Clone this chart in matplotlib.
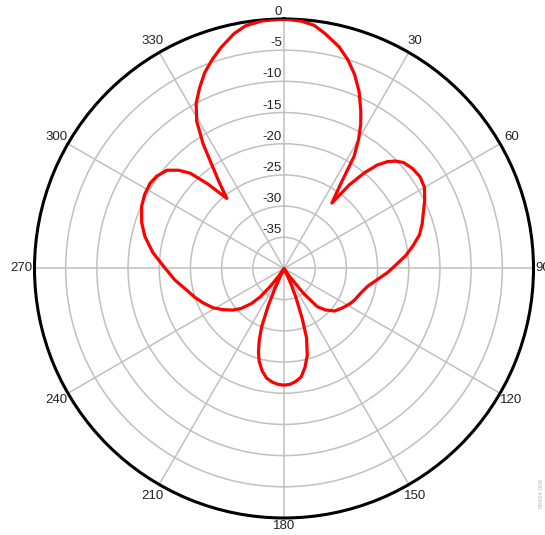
import numpy as np
import matplotlib
matplotlib.use("Agg")
import matplotlib.pyplot as plt
import matplotlib.transforms as mtransforms

# ── data (compass degrees, clockwise from top; dB) ──
angle_deg = [0, 4, 7, 10, 14, 17, 20, 23, 26, 28, 30, 32, 34, 36.2, 38, 40, 42, 44,
             46, 48.4, 52, 56, 60, 64, 68, 72, 76, 80, 84, 88, 92, 97, 102, 108,
             114, 118, 124, 130, 135, 139, 142, 145, 147, 153, 155.5, 157.5, 160,
             162, 165, 168, 171, 174, 177, 180, 183, 186, 189, 192, 195, 197, 199,
             201, 203, 204.5, 207, 213, 215, 217.6, 220, 223, 227, 231, 236, 241,
             247, 252, 258, 264, 271, 277, 283, 288, 293.5, 298, 302.5, 306, 310,
             313, 315.5, 318, 320.8, 323, 325, 327, 329.3, 332, 335, 338, 341, 344,
             348, 351, 355, 360]
gain_db = [0, -0.25, -0.7, -1.8, -3.4, -5.0, -6.9, -9.2, -11.9, -13.8, -16.1, -18.8,
           -24.0, -27.0, -23.0, -20.0, -17.7, -16.2, -15.2, -14.4, -13.9, -13.7,
           -14.0, -14.9, -15.9, -16.7, -17.6, -19.0, -20.4, -22.0, -23.3, -25.0,
           -26.3, -27.1, -27.6, -28.0, -28.7, -29.4, -30.6, -31.9, -35.0, -38.5,
           -40, -40, -37.5, -35.1, -31.5, -28.3, -25.6, -23.8, -22.4, -21.8, -21.4,
           -21.3, -21.4, -21.7, -22.2, -23.2, -24.6, -26.0, -27.8, -30.0, -33.6,
           -36.5, -40, -40, -38.5, -36.3, -34.0, -32.3, -30.6, -29.4, -28.2, -27.0,
           -25.9, -25.0, -23.9, -22.4, -20.7, -18.8, -17.1, -16.0, -15.1, -14.7,
           -14.55, -14.8, -15.5, -16.9, -18.6, -21.8, -25.5, -22.8, -20.0, -16.2,
           -12.6, -10.0, -8.0, -6.1, -4.6, -3.2, -1.5, -0.6, -0.15, 0]

ring_values = [-35, -30, -25, -20, -15, -10, -5]
radial_labels = [0, -5, -10, -15, -20, -25, -30, -35]
theta_labels = [30, 60, 90, 120, 150, 180, 210, 240, 270, 300, 330]

R_MIN, R_MAX = -40, 0
GRID = "#c0c0c0"

plt.rcParams["font.family"] = ["Liberation Sans", "DejaVu Sans"]

fig = plt.figure(figsize=(5.45, 5.35), dpi=100)
fig.patch.set_facecolor("white")
ax = fig.add_axes([0.0633, 0.0318, 0.9156, 0.9327], projection="polar")
ax.set_theta_zero_location("N")
ax.set_theta_direction(-1)
ax.set_rlim(R_MIN, R_MAX)

ax.set_thetagrids(np.arange(0, 360, 30), labels=[""] * 12)
ax.set_rgrids(ring_values, labels=[""] * len(ring_values))
ax.grid(True, color=GRID, linewidth=1.1)
ax.spines["polar"].set_color("black")
ax.spines["polar"].set_linewidth(2.2)
ax.tick_params(length=0)

theta = np.deg2rad(angle_deg)
r = np.clip(gain_db, R_MIN, R_MAX)
ax.plot(theta, r, color="#ff0000", linewidth=2.3, solid_joinstyle="round",
        solid_capstyle="round", zorder=4)

# radial labels along the 0 spoke
off = mtransforms.offset_copy(ax.transData, fig=fig, x=-2, y=4, units="dots")
for v in radial_labels:
    ax.text(0, v, str(v), transform=off, ha="right", va="baseline",
            fontsize=9.5, color="#222222", zorder=5)

# angle labels outside the circle
for a in theta_labels:
    t = np.deg2rad(a)
    if a == 90:
        ax.text(t, 0.3, str(a), ha="left", va="center", fontsize=9.5, color="#222222")
    elif a == 270:
        ax.text(t, 0.3, str(a), ha="right", va="center", fontsize=9.5, color="#222222")
    elif a == 180:
        ax.text(t, 0.4, str(a), ha="center", va="top", fontsize=9.5, color="#222222")
    else:
        ax.text(t, 2.1, str(a), ha="center", va="center", fontsize=9.5, color="#222222")

fig.text(0.993, 0.05, "08404-006", rotation=90, fontsize=4.5, color="#b8b8b8",
         ha="center", va="bottom")

fig.savefig("out.png", dpi=100, facecolor="white")
